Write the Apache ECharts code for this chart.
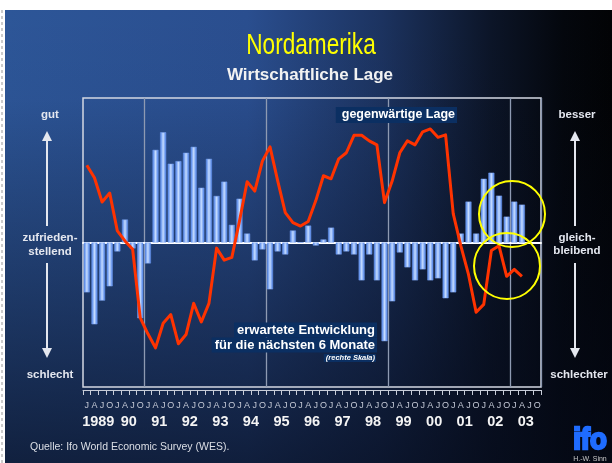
<!DOCTYPE html>
<html>
<head>
<meta charset="utf-8">
<title>Nordamerika - Wirtschaftliche Lage</title>
<script src="https://cdn.jsdelivr.net/npm/echarts@6/dist/echarts.min.js"></script>
<style>
  html, body { margin: 0; padding: 0; background: #ffffff; }
  #chart { width: 612px; height: 463px; }
</style>
</head>
<body>
<div id="chart"></div>
<script>
// quarter axis: 1989 Q1 .. 2003 Q4
const years = ['1989', '90', '91', '92', '93', '94', '95', '96', '97', '98', '99', '00', '01', '02', '03']
const quarterLetters = ['J', 'A', 'J', 'O']

// erwartete Entwicklung fuer die naechsten 6 Monate (bars, right scale), 1989 Q1 .. 2003 Q2
const expectations = [
  -34.5, -56.6, -40.2, -30.3, -6.2, 15.9, -4.1, -52.4,
  -14.5, 64.1, 76.3, 54.5, 56.3, 62.1, 66.2, 37.9,
  57.9, 32.2, 42.1, 12.2, 30.3, 6.2, -12.4, -4.8,
  -32.4, -6.2, -8.3, 8.3, 0, 11.7, -2.1, 2.1,
  10.3, -8.3, -6.2, -8.3, -26.2, -8.3, -26.2, -68.3,
  -40.7, -6.9, -17.2, -26.2, -18.6, -26.2, -24.8, -38.6,
  -34.5, 6.2, 28.3, 6.2, 44.1, 48.3, 32.4, 17.9,
  28.3, 26.2
]

// gegenwaertige Lage (line, left scale), 1989 Q1 .. 2003 Q2
const situation = [
  53.5, 44.8, 28, 34.2, 8, 1.1, -4.6, -52.2,
  -63.2, -72.9, -55.9, -49.9, -70.1, -63.7, -42.1, -55,
  -42.1, -3.9, -12.2, -10.3, 14.9, 42.1, 35.6, 56.3,
  66.2, 42.8, 20.7, 13.8, 11.4, 14.5, 29, 46.2,
  44.1, 57.9, 62.1, 74.2, 74.2, 70.3, 67.6, 27.6,
  42.5, 62.1, 70.3, 67.6, 76.6, 78.6, 72.8, 74.5,
  20, -2.3, -22.1, -48.3, -42.8, -5.5, -2.3, -23.4,
  -18.6, -23.4
]

const quarterKeys = []
years.forEach(y => {
  quarterLetters.forEach((q, i) => quarterKeys.push(y + '-' + (i + 1)))
})

const font = "'Liberation Sans', Arial, sans-serif"
const labelColor = '#e4e7ef'

const upArrow = (x) => [
  { type: 'line', shape: { x1: x, y1: 139, x2: x, y2: 226 }, style: { stroke: labelColor, lineWidth: 2 } },
  { type: 'polygon', shape: { points: [[x, 131], [x - 5, 141], [x + 5, 141]] }, style: { fill: labelColor } }
]
const downArrow = (x) => [
  { type: 'line', shape: { x1: x, y1: 263, x2: x, y2: 350 }, style: { stroke: labelColor, lineWidth: 2 } },
  { type: 'polygon', shape: { points: [[x, 358], [x - 5, 348], [x + 5, 348]] }, style: { fill: labelColor } }
]
const sideText = (x, y, text) => ({
  type: 'text', x: x, y: y,
  style: { text: text, font: 'bold 11.5px ' + font, fill: labelColor, textAlign: 'center', textVerticalAlign: 'middle' }
})
const boxText = (x, y, text, size, align, pad) => ({
  type: 'text', x: x, y: y, z: 20,
  style: {
    text: text, font: 'bold ' + size + 'px ' + font, fill: '#ffffff',
    textAlign: align, textVerticalAlign: 'middle',
    backgroundColor: '#0b2f62', padding: pad
  }
})

const option = {
  animation: false,
  backgroundColor: '#ffffff',
  graphic: [
    {
      type: 'rect', z: -5,
      shape: { x: 5, y: 10, width: 607, height: 453 },
      style: {
        fill: {
          type: 'linear', x: 0, y: 0, x2: 1, y2: 0,
          colorStops: [
            { offset: 0, color: '#2d5698' },
            { offset: 0.4, color: '#2a4e8f' },
            { offset: 0.62, color: '#1c3360' },
            { offset: 0.8, color: '#0c1528' },
            { offset: 0.92, color: '#04070d' },
            { offset: 1, color: '#020305' }
          ]
        }
      }
    },
    {
      type: 'rect', z: -4,
      shape: { x: 5, y: 10, width: 607, height: 453 },
      style: {
        fill: {
          type: 'linear', x: 0, y: 0, x2: 0, y2: 1,
          colorStops: [
            { offset: 0, color: 'rgba(5,10,25,0)' },
            { offset: 0.2, color: 'rgba(5,10,25,0.03)' },
            { offset: 1, color: 'rgba(5,10,25,0.7)' }
          ]
        }
      }
    },
    { type: 'line', shape: { x1: 2, y1: 10, x2: 2, y2: 463 }, style: { stroke: '#9a9a9a', lineWidth: 1, lineDash: [3, 3] } },
    {
      type: 'text', x: 311, y: 46, scaleX: 0.78,
      style: { text: 'Nordamerika', font: '29px ' + font, fill: '#ffff00', textAlign: 'center', textVerticalAlign: 'middle' }
    },
    {
      type: 'text', x: 310, y: 75,
      style: { text: 'Wirtschaftliche Lage', font: 'bold 17px ' + font, fill: '#f2f2f2', textAlign: 'center', textVerticalAlign: 'middle' }
    },
    sideText(50, 115, 'gut'),
    sideText(50, 238, 'zufrieden-'),
    sideText(50, 252, 'stellend'),
    sideText(50, 375, 'schlecht'),
    ...upArrow(47),
    ...downArrow(47),
    sideText(577, 115, 'besser'),
    sideText(577, 238, 'gleich-'),
    sideText(577, 251, 'bleibend'),
    sideText(579, 375, 'schlechter'),
    ...upArrow(575),
    ...downArrow(575),
    boxText(457, 115, 'gegenwärtige Lage', 12.5, 'right', [2, 2, 1, 6]),
    boxText(377, 330, 'erwartete Entwicklung', 13, 'right', [1, 2, 1, 3]),
    boxText(377, 345, 'für die nächsten 6 Monate', 13, 'right', [1, 2, 1, 3]),
    {
      type: 'text', x: 376, y: 358, z: 20,
      style: {
        text: '(rechte Skala)', font: 'italic bold 7.5px ' + font, fill: '#ffffff',
        textAlign: 'right', textVerticalAlign: 'middle', backgroundColor: '#0b2f62', padding: [0, 1, 0, 2]
      }
    },
    { type: 'circle', z: 20, shape: { cx: 512, cy: 214, r: 33 }, style: { fill: null, stroke: '#ffff00', lineWidth: 2 } },
    { type: 'circle', z: 20, shape: { cx: 507, cy: 266, r: 33 }, style: { fill: null, stroke: '#ffff00', lineWidth: 2 } },
    {
      type: 'text', x: 30, y: 447,
      style: { text: 'Quelle: Ifo World Economic Survey (WES).', font: '10.5px ' + font, fill: '#dcdfe6', textVerticalAlign: 'middle' }
    },
    {
      type: 'text', x: 590, y: 441, scaleX: 0.92,
      style: {
        text: 'ifo', font: 'bold 30px ' + font, fill: '#1f6cff',
        stroke: '#1f6cff', lineWidth: 2.5, textAlign: 'center', textVerticalAlign: 'middle'
      }
    },
    {
      type: 'text', x: 590, y: 459,
      style: { text: 'H.-W. Sinn', font: '7px ' + font, fill: '#c8c8c8', textAlign: 'center', textVerticalAlign: 'middle' }
    }
  ],
  grid: {
    left: 83,
    right: 71,
    top: 98,
    bottom: 76,
    show: true,
    borderColor: '#d4d8e2',
    borderWidth: 1.5,
    backgroundColor: 'transparent'
  },
  xAxis: [
    {
      type: 'category',
      data: quarterKeys,
      axisLine: { onZero: true, onZeroAxisIndex: 0, lineStyle: { color: '#ffffff', width: 2 } },
      axisTick: { show: false },
      axisLabel: { show: false },
      splitLine: {
        show: true,
        interval: (idx) => idx % 16 === 8,
        lineStyle: { color: '#8e9ab2', width: 1.3 }
      }
    },
    {
      type: 'category',
      data: quarterKeys,
      position: 'bottom',
      offset: 3,
      axisLine: { onZero: false, lineStyle: { color: '#c8cdd8', width: 1 } },
      axisTick: { show: true, interval: 0, length: 5, lineStyle: { color: '#c8cdd8' } },
      axisLabel: {
        interval: 0, margin: 11, fontSize: 9, color: '#c4c9d6', fontFamily: font,
        formatter: (v, i) => quarterLetters[i % 4]
      },
      splitLine: { show: false }
    },
    {
      type: 'category',
      data: years,
      position: 'bottom',
      offset: 3,
      axisLine: { show: false, onZero: false },
      axisTick: { show: false },
      axisLabel: { interval: 0, margin: 24, fontSize: 14.5, fontWeight: 'bold', color: '#f4f4f4', fontFamily: font },
      splitLine: { show: false }
    }
  ],
  yAxis: [
    { type: 'value', min: -100, max: 100, show: false },
    { type: 'value', min: -100, max: 100, show: false }
  ],
  series: [
    {
      name: 'erwartete Entwicklung',
      type: 'bar',
      xAxisIndex: 0,
      yAxisIndex: 1,
      data: expectations,
      barWidth: 6,
      itemStyle: {
        color: {
          type: 'linear', x: 0, y: 0, x2: 1, y2: 0,
          colorStops: [
            { offset: 0, color: '#3c76e6' },
            { offset: 0.5, color: '#c6dcff' },
            { offset: 1, color: '#3c76e6' }
          ]
        },
        borderColor: '#7aa3f0',
        borderWidth: 0.5
      }
    },
    {
      name: 'gegenwärtige Lage',
      type: 'line',
      xAxisIndex: 0,
      yAxisIndex: 0,
      data: situation,
      symbol: 'none',
      z: 5,
      lineStyle: { color: '#ff3300', width: 3, join: 'round' }
    }
  ]
}

const chart = echarts.init(document.getElementById('chart'))
chart.setOption(option)
</script>
</body>
</html>
